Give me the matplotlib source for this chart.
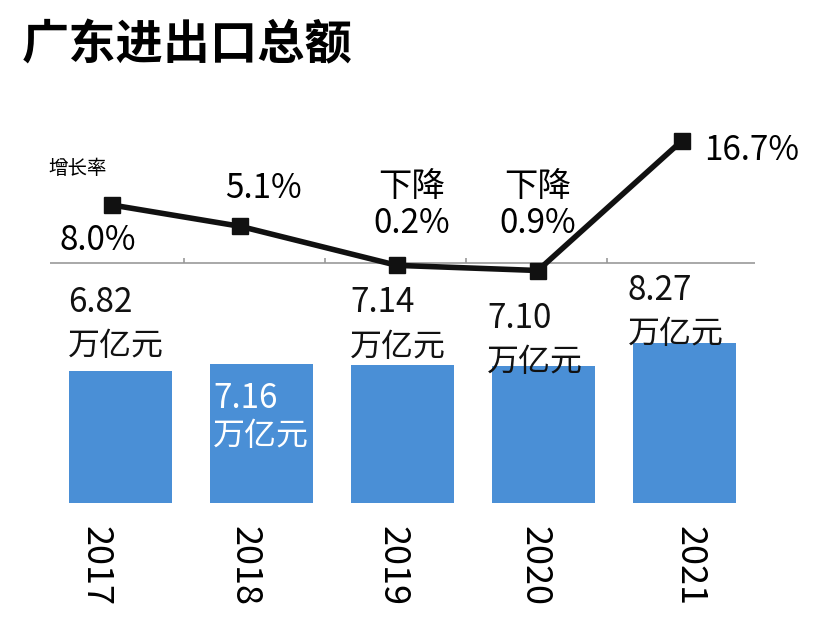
import matplotlib
matplotlib.use("Agg")
import matplotlib.pyplot as plt
from matplotlib import font_manager as fm

years = ["2017", "2018", "2019", "2020", "2021"]
trade = [6.82, 7.16, 7.14, 7.10, 8.27]          # 万亿元
growth = [8.0, 5.1, -0.2, -0.9, 16.7]            # %
trade_labels = ["6.82", "7.16", "7.14", "7.10", "8.27"]
growth_labels = ["8.0%", "5.1%", "下降\n0.2%", "下降\n0.9%", "16.7%"]

names = sorted({f.name for f in fm.fontManager.ttflist if "CJK" in f.name})
pref = [n for n in ["Noto Sans CJK SC", "Noto Sans CJK JP", "Noto Sans CJK TC", "Noto Sans CJK KR"] if n in names] + names
plt.rcParams["font.family"] = "sans-serif"
plt.rcParams["font.sans-serif"] = ["DejaVu Sans"] + pref[:1] if False else (pref[:1] + ["DejaVu Sans"])

W, H = 829, 640
fig = plt.figure(figsize=(W/100, H/100), dpi=100)
def ptext(x, y, s, **kw):
    kw.setdefault("fontsize", 24)
    fig.text(x/W, 1-y/H, s, **kw)

ax = fig.add_axes([50/W, 1-503/H, 705/W, 403/H])
ax.set_xlim(-0.5, 4.5)
ax.set_ylim(0, 403/19.35)
ax.bar(range(5), trade, width=0.73, color="#4a8fd6")
ax.axis("off")

ax2 = ax.twinx()
ax2.set_xlim(-0.5, 4.5)
top = 8 + 105/7.36
bot = 8 - 298/7.36
ax2.set_ylim(bot, top)
ax2.axis("off")
ax2.hlines(0.1, -0.62, 4.62, color="#999999", lw=1.2)
for xv in [-0.62, 0.45, 1.45, 2.45, 3.45, 4.6]:
    ax2.vlines(xv, 0.1, 0.8, color="#999999", lw=1.2)
xs = [-0.06, 0.85, 1.96, 2.96, 3.98]
ax2.plot(xs, growth, color="#111111", lw=4, marker="s", ms=12, zorder=5)

ptext(22, 45, "广东进出口总额", fontsize=34, fontweight="bold", va="center")
ptext(48, 168, "增长率", fontsize=14, va="center")

gpos = [(98, 240), (263, 188), (412, 205), (538, 205), (752, 150)]
for (x, y), s in zip(gpos, growth_labels):
    ptext(x, y, s, ha="center", va="center", fontsize=24, linespacing=1.1)

tpos = [(68, 302), (213, 398), (350, 303), (487, 318), (628, 290)]
for i, ((x, y), s) in enumerate(zip(tpos, trade_labels)):
    c = "white" if i == 1 else "#111111"
    ptext(x, y, s, ha="left", va="center", color=c, fontsize=24)
    ptext(x, y+44 if i != 1 else y+38, "万亿元", ha="left", va="center", color=c, fontsize=23)

ypos = [96, 245, 393, 535, 690]
for x, s in zip(ypos, years):
    ptext(x, 566, s, ha="center", va="center", rotation=-90, fontsize=26)

fig.savefig("out.png", dpi=100)
